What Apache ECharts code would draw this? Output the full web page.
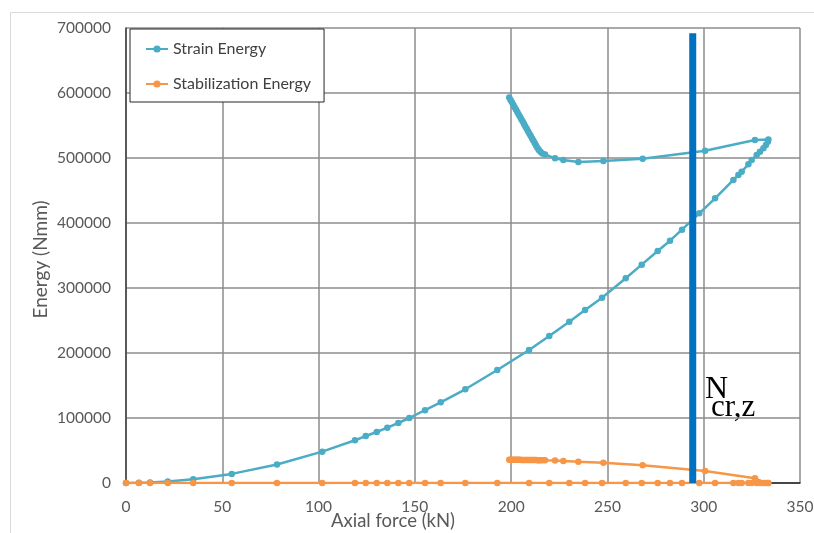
<!DOCTYPE html>
<html>
<head>
<meta charset="utf-8">
<title>Energy vs axial force</title>
<script src="https://cdn.jsdelivr.net/npm/echarts@6/dist/echarts.min.js"></script>
<style>
  html, body { margin: 0; padding: 0; background: #ffffff; overflow: hidden; }
  #chart { width: 814px; height: 533px; }
</style>
</head>
<body>
<div id="chart"></div>
<script>
// Axial force (kN) at each load step: loading branch up to the peak, then the post-buckling return.
const axialForce = [
  0, 6.7, 12.5, 21.7, 34.9, 54.9, 78.4, 101.9, 118.9, 124.5,
  130.2, 135.7, 141.4, 147.1, 155.3, 163.4, 176.2, 192.8, 209.3, 219.8,
  230.2, 238.4, 247.2, 259.5, 267.8, 276.1, 282.5, 288.7, 297.7, 305.9,
  315.4, 318.0, 319.7, 323.2, 324.9, 327.5, 329.2, 331.0, 332.3, 333.3,
  333.6,
  326.6, 300.7, 268.3, 247.9, 234.9, 227.1, 222.8, 217.6, 216.2, 215.2,
  214.4, 213.7, 213.0, 212.3, 211.6, 210.9, 210.2, 209.5, 208.8, 208.1,
  207.4, 206.7, 206.0, 205.3, 204.6, 203.9, 203.2, 202.5, 201.8, 201.1,
  200.4, 199.7, 199.0
];

// Strain energy (Nmm) at the same steps
const strainEnergy = [
  0, 300, 800, 2200, 5700, 14000, 28500, 48200, 65700, 72300,
  78500, 85100, 92300, 100000, 112000, 124200, 144200, 173800, 204600, 226200,
  248200, 266200, 285100, 314900, 335900, 356900, 372800, 389700, 414900, 438000,
  466200, 473800, 479000, 490300, 497000, 504600, 509700, 514900, 520000, 525000,
  528500,
  527700, 511200, 499000, 495400, 494000, 496900, 499500, 505500, 507000, 509500,
  512300, 515500, 519000, 522700, 526400, 530100, 533800, 537500, 541200, 544900,
  548600, 552300, 556000, 559700, 563400, 567100, 570800, 574500, 578200, 581900,
  585600, 589300, 593000
];

// Stabilization energy (Nmm) at the same steps
const stabilizationEnergy = [
  0, 0, 0, 0, 0, 0, 0, 0, 0, 0,
  0, 0, 0, 0, 0, 0, 0, 0, 0, 0,
  0, 0, 0, 0, 0, 0, 0, 0, 0, 0,
  0, 0, 0, 0, 0, 0, 0, 0, 0, 0,
  0,
  7200, 18500, 27200, 31300, 32800, 33800, 34600, 34900, 35000, 35000,
  35100, 35100, 35200, 35200, 35200, 35300, 35300, 35300, 35400, 35400,
  35400, 35500, 35500, 35500, 35600, 35600, 35600, 35700, 35700, 35700,
  35800, 35800, 35800
];

// Critical buckling load about the weak axis, N_cr,z (kN), drawn as a vertical bar
const ncrForce = 294.3;
const ncrSpan = [0, 692000];

const xTicks = { min: 0, max: 350, interval: 50 };
const yTicks = { min: 0, max: 700000, interval: 100000 };

const seriesNames = ['Strain Energy', 'Stabilization Energy'];

const pair = (xs, ys) => xs.map((x, i) => [x, ys[i]]);

const FONT = 'Lato';
const TEXT = '#595959';
const GRID_LINE = '#8c8c8c';

const chart = echarts.init(document.getElementById('chart'), null, { renderer: 'canvas' });

chart.setOption({
  animation: false,
  backgroundColor: '#ffffff',
  textStyle: { fontFamily: FONT },
  grid: { left: 126, top: 28, width: 674, height: 455, containLabel: false, outerBoundsMode: 'none' },
  legend: {
    data: seriesNames,
    orient: 'vertical',
    left: 130,
    top: 29,
    padding: [10, 13, 8, 15],
    itemGap: 15,
    itemWidth: 22,
    itemHeight: 9,
    backgroundColor: '#ffffff',
    borderColor: '#262626',
    borderWidth: 1,
    textStyle: { fontFamily: FONT, fontSize: 16, color: '#404040', lineHeight: 20 }
  },
  xAxis: {
    type: 'value',
    min: xTicks.min,
    max: xTicks.max,
    interval: xTicks.interval,
    name: 'Axial force (kN)',
    nameLocation: 'middle',
    nameGap: 29,
    nameMoveOverlap: false,
    nameTextStyle: { fontFamily: FONT, fontSize: 18.5, color: TEXT, padding: [0, 140, 0, 0] },
    axisLine: { show: true, onZero: false, lineStyle: { color: '#262626', width: 1.5 } },
    axisTick: { show: false },
    axisLabel: { margin: 16, fontFamily: FONT, fontSize: 15.5, color: TEXT },
    splitLine: { show: true, lineStyle: { color: GRID_LINE, width: 1.5 } }
  },
  yAxis: {
    type: 'value',
    min: yTicks.min,
    max: yTicks.max,
    interval: yTicks.interval,
    name: 'Energy (Nmm)',
    nameLocation: 'middle',
    nameGap: 76,
    nameMoveOverlap: false,
    nameTextStyle: { fontFamily: FONT, fontSize: 19, color: TEXT, padding: [0, 8, 0, 0] },
    axisLine: { show: true, onZero: false, lineStyle: { color: '#404040', width: 1.5 } },
    axisTick: { show: false },
    axisLabel: { margin: 15, fontFamily: FONT, fontSize: 15.5, color: TEXT, formatter: v => String(v) },
    splitLine: { show: true, lineStyle: { color: GRID_LINE, width: 1.5 } }
  },
  series: [
    {
      name: seriesNames[0],
      type: 'line',
      data: pair(axialForce, strainEnergy),
      color: '#4BACC6',
      lineStyle: { width: 2.5 },
      symbol: 'circle',
      symbolSize: 6.5,
      showAllSymbol: true,
      z: 3
    },
    {
      name: seriesNames[1],
      type: 'line',
      data: pair(axialForce, stabilizationEnergy),
      color: '#F79646',
      lineStyle: { width: 2.5 },
      symbol: 'circle',
      symbolSize: 6.5,
      showAllSymbol: true,
      z: 3
    },
    {
      name: 'Ncr,z',
      type: 'line',
      data: ncrSpan.map(e => [ncrForce, e]),
      color: '#0070C0',
      lineStyle: { width: 7, cap: 'butt' },
      symbol: 'none',
      silent: true,
      z: 4
    }
  ],
  graphic: [
    {
      type: 'rect',
      silent: true,
      z: -10,
      shape: { x: 10.5, y: 12.5, width: 900, height: 600 },
      style: { fill: 'none', stroke: '#d9d9d9', lineWidth: 1 }
    },
    {
      type: 'text',
      left: 705,
      top: 374,
      silent: true,
      style: { text: 'N', font: '32px "Liberation Serif"', fill: '#000000' }
    },
    {
      type: 'text',
      left: 711,
      top: 392,
      silent: true,
      style: { text: 'cr,z', font: '31px "Liberation Serif"', fill: '#000000' }
    }
  ]
});
</script>
</body>
</html>
